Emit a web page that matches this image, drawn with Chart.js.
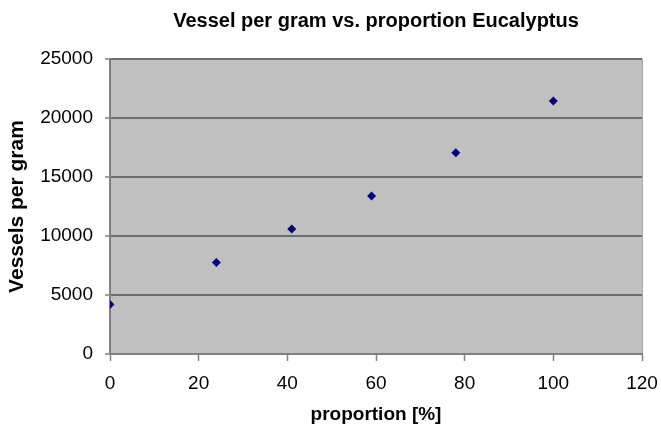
<!DOCTYPE html>
<html>
<head>
<meta charset="utf-8">
<title>Vessel per gram vs. proportion Eucalyptus</title>
<script src="https://cdn.jsdelivr.net/npm/chart.js@4"></script>
<style>
  html, body { margin: 0; padding: 0; background: #ffffff; }
  #myChart { display: block; }
</style>
</head>
<body>
<canvas id="myChart" width="661" height="430"></canvas>
<script>
// values
const proportion = [0, 24, 41, 59, 78, 100];           // % Eucalyptus
const vesselsPerGram = [4200, 7750, 10600, 13400, 17050, 21450];
const xTicks = [0, 20, 40, 60, 80, 100, 120];
const yTicks = [0, 5000, 10000, 15000, 20000, 25000];

const ctx = document.getElementById('myChart');
const fontFamily = "'Liberation Sans', Arial, sans-serif";

// grey plot area like the old Excel charts
const plotBackground = {
  id: 'plotBackground',
  beforeDraw(chart) {
    const a = chart.chartArea;
    const c = chart.ctx;
    c.save();
    c.fillStyle = '#c0c0c0';
    c.fillRect(a.left, a.top, a.right - a.left, a.bottom - a.top);
    c.strokeStyle = '#a8a8a8';
    c.lineWidth = 1;
    c.beginPath();
    c.moveTo(a.right + 0.5, a.top);
    c.lineTo(a.right + 0.5, a.bottom);
    c.stroke();
    c.restore();
  }
};

new Chart(ctx, {
  type: 'scatter',
  data: {
    datasets: [{
      label: 'Vessels per gram',
      data: proportion.map((p, i) => ({ x: p, y: vesselsPerGram[i] })),
      pointStyle: 'rectRot',
      pointRadius: 4.5,
      pointHoverRadius: 4.5,
      pointBorderWidth: 0,
      backgroundColor: '#000080',
      borderColor: '#000080'
    }]
  },
  options: {
    responsive: false,
    devicePixelRatio: 1,
    animation: false,
    layout: { padding: { left: 0, right: 19, top: 0, bottom: 0 } },
    plugins: {
      legend: { display: false },
      tooltip: { enabled: false },
      title: {
        display: true,
        fullSize: false,
        text: 'Vessel per gram vs. proportion Eucalyptus',
        color: '#000000',
        font: { family: fontFamily, size: 20, weight: 'bold' },
        padding: { top: 9, bottom: 26 }
      }
    },
    scales: {
      x: {
        type: 'linear',
        min: xTicks[0],
        max: xTicks[xTicks.length - 1],
        afterBuildTicks: axis => { axis.ticks = xTicks.map(v => ({ value: v })); },
        afterFit: axis => {
          axis.height = 76;
          axis.paddingLeft = 0;
          axis.paddingRight = 0;
        },
        grid: {
          display: true,
          drawOnChartArea: false,
          drawTicks: true,
          tickLength: 7,
          tickColor: '#808080',
          tickWidth: 1.5
        },
        border: { display: true, color: '#808080', width: 2 },
        ticks: {
          color: '#000000',
          padding: 11,
          maxRotation: 0,
          callback: v => String(v),
          font: { family: fontFamily, size: 19 }
        },
        title: {
          display: true,
          text: 'proportion [%]',
          color: '#000000',
          font: { family: fontFamily, size: 19, weight: 'bold' },
          padding: { top: 0, bottom: 4 }
        }
      },
      y: {
        type: 'linear',
        min: yTicks[0],
        max: yTicks[yTicks.length - 1],
        afterBuildTicks: axis => { axis.ticks = yTicks.map(v => ({ value: v })); },
        afterFit: axis => { axis.width = 110; },
        grid: {
          color: '#6e6e6e',
          lineWidth: 2,
          drawTicks: true,
          tickLength: 5,
          tickColor: '#808080',
          tickWidth: 1.5
        },
        border: { display: true, color: '#808080', width: 2 },
        ticks: {
          color: '#000000',
          padding: 12,
          callback: v => String(v),
          font: { family: fontFamily, size: 19 }
        },
        title: {
          display: true,
          text: 'Vessels per gram',
          color: '#000000',
          font: { family: fontFamily, size: 21, weight: 'bold' },
          padding: { top: 5, bottom: 0 }
        }
      }
    }
  },
  plugins: [plotBackground]
});
</script>
</body>
</html>
